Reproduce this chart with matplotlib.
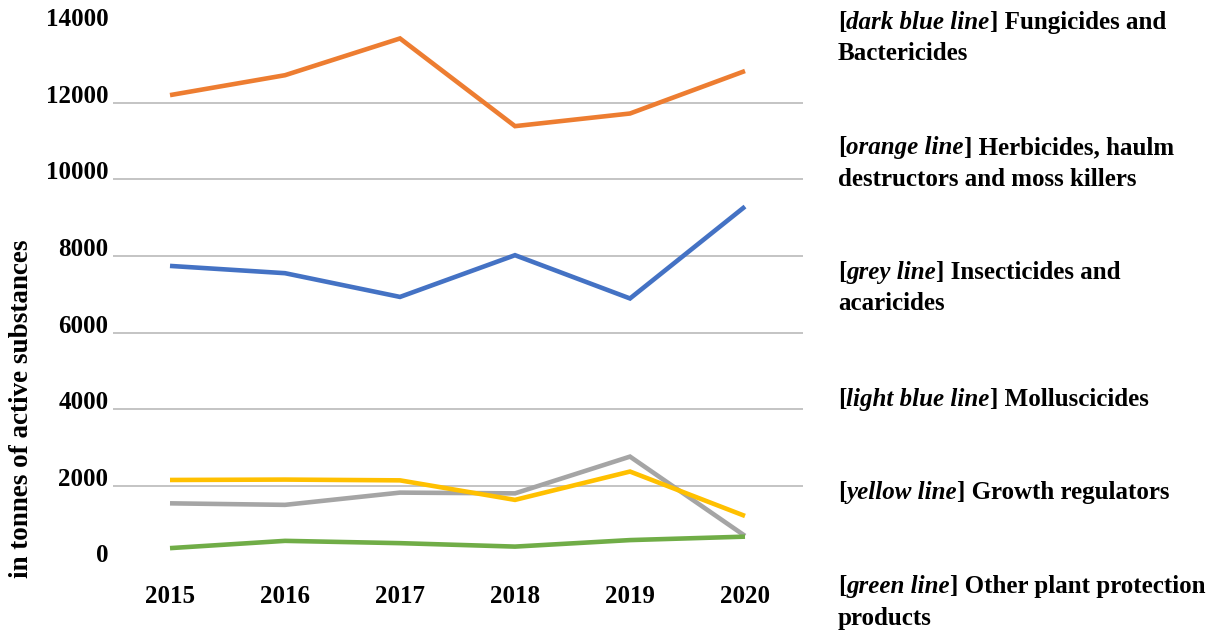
import matplotlib
matplotlib.use('Agg')
import matplotlib.pyplot as plt

# ---------------- data ----------------
years = ['2015', '2016', '2017', '2018', '2019', '2020']
fungicides = [7740, 7550, 6930, 8020, 6890, 9290]
herbicides = [12200, 12720, 13680, 11390, 11720, 12830]
insecticides = [1540, 1500, 1820, 1800, 2760, 690]
growth_regulators = [2150, 2160, 2140, 1630, 2370, 1210]
other_products = [370, 560, 500, 410, 580, 670]

y_ticks = [0, 2000, 4000, 6000, 8000, 10000, 12000, 14000]
y_label = 'in tonnes of active substances'

legend_colour_names = ['dark blue line', 'orange line', 'grey line',
                       'light blue line', 'yellow line', 'green line']
legend_names = ['Fungicides and\nBactericides',
                'Herbicides, haulm\ndestructors and moss killers',
                'Insecticides and\nacaricides',
                'Molluscicides',
                'Growth regulators',
                'Other plant protection\nproducts']

# ---------------- figure ----------------
W, H = 1214, 631
fig = plt.figure(figsize=(W / 100, H / 100), dpi=100)
ax = fig.add_axes([112.5 / W, (H - 562.3) / H, 690 / W, (562.3 - 26.2) / H])

FONT = 'Liberation Serif'
x = list(range(len(years)))
series = [
    (fungicides, '#4472C4'),
    (herbicides, '#ED7D31'),
    (insecticides, '#A5A5A5'),
    (growth_regulators, '#FFC000'),
    (other_products, '#70AD47'),
]
for vals, col in series:
    ax.plot(x, vals, color=col, lw=3.3, solid_joinstyle='miter',
            solid_capstyle='butt', clip_on=False)

ax.set_xlim(-0.5, len(years) - 0.5)
ax.set_ylim(y_ticks[0], y_ticks[-1])
ax.set_xticks(x)
ax.set_xticklabels(years, fontfamily=FONT, fontweight='bold', fontsize=18)
ax.set_yticks(y_ticks)
ax.set_yticklabels([str(v) for v in y_ticks], fontfamily=FONT,
                   fontweight='bold', fontsize=18)
for lbl in ax.get_yticklabels():
    lbl.set_va('baseline')
ax.tick_params(axis='both', length=0)
ax.tick_params(axis='y', pad=3)
ax.tick_params(axis='x', pad=16)

ax.grid(axis='y', color='#B4B4B4', lw=1.1)
ax.set_axisbelow(True)
ticks = ax.yaxis.get_major_ticks()
ticks[0].gridline.set_visible(False)
ticks[-1].gridline.set_visible(False)
for sp in ax.spines.values():
    sp.set_visible(False)

ax.set_ylabel(y_label, fontfamily=FONT, fontweight='bold', fontsize=19.5,
              ha='center', va='center')
ax.yaxis.set_label_coords((22 - 112.5) / 690, (562.3 - 409) / (562.3 - 26.2))

# ---------------- legend as rich text ----------------
renderer = fig.canvas.get_renderer()
LEG_FS = 18
x0 = 838
baselines = [29, 154, 279, 406, 499, 593]
line_step = 31.5


def put(xp, yp, s, italic=False):
    t = fig.text(xp / W, 1 - yp / H, s, fontfamily=FONT, fontweight='bold',
                 fontstyle='italic' if italic else 'normal', fontsize=LEG_FS,
                 ha='left', va='baseline')
    return t.get_window_extent(renderer).width


for cname, name, yb in zip(legend_colour_names, legend_names, baselines):
    lines = name.split('\n')
    xp = x0
    xp += put(xp, yb, '[')
    xp += put(xp, yb, cname, italic=True)
    put(xp, yb, '] ' + lines[0])
    for k, ln in enumerate(lines[1:], start=1):
        put(x0, yb + k * line_step, ln)

fig.savefig('out.png', dpi=100)
